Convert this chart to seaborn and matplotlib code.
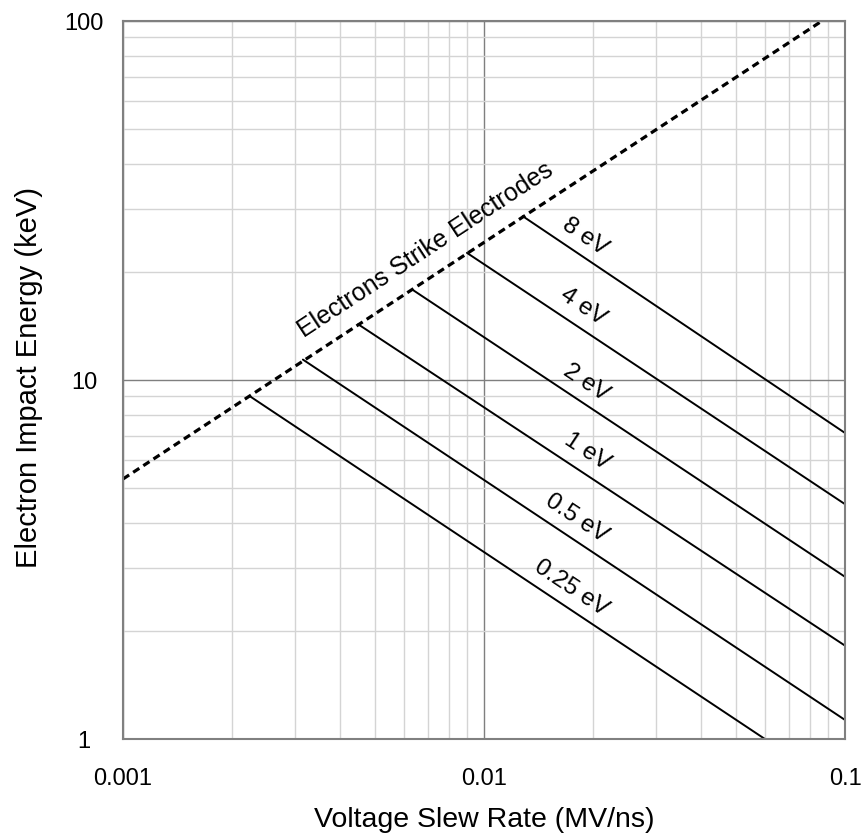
import numpy as np
import matplotlib
matplotlib.use("Agg")
import matplotlib.pyplot as plt
import seaborn as sb
from matplotlib.ticker import FixedLocator, FixedFormatter, LogLocator, NullFormatter


# Kinetic energy of the ions (one solid line each)
energy_labels = ["0.25 eV", "0.5 eV", "1 eV", "2 eV", "4 eV", "8 eV"]
start_rate = [0.00225, 0.00315, 0.00448, 0.00636, 0.00897, 0.0128]
start_energy = [9.0, 11.4, 14.3, 17.8, 22.6, 28.6]
end_rate = [0.060, 0.1, 0.1, 0.1, 0.1, 0.1]
end_energy = [1.0, 1.13, 1.82, 2.83, 4.51, 7.12]

# "Electrons Strike Electrodes" limit (dashed)
strike_rate = [0.001, 0.0863]
strike_energy = [5.3, 100.0]

x_ticks = [0.001, 0.01, 0.1]
x_tick_labels = ["0.001", "0.01", "0.1"]
y_ticks = [1, 10, 100]
y_tick_labels = ["1", "10", "100"]

# label centres for the curves (data coords)
label_rate = [0.0174, 0.0181, 0.0193, 0.01915, 0.0188, 0.01905]
label_energy = [2.65, 4.13, 6.34, 9.87, 16.1, 25.2]


def main():
    sb.set_theme(style="white")
    plt.rcParams['font.family'] = ['Liberation Sans', 'DejaVu Sans']

    fig = plt.figure(figsize=(8.64, 8.37), dpi=100)
    ax = fig.add_axes([123 / 864, 97 / 837, 722 / 864, 718 / 837])
    ax.set_xscale('log')
    ax.set_yscale('log')
    ax.set_xlim(0.001, 0.1)
    ax.set_ylim(1, 100)

    # grid: light minor lines, darker decade lines
    ax.xaxis.set_minor_locator(LogLocator(base=10, subs=np.arange(2, 10)))
    ax.yaxis.set_minor_locator(LogLocator(base=10, subs=np.arange(2, 10)))
    ax.xaxis.set_minor_formatter(NullFormatter())
    ax.yaxis.set_minor_formatter(NullFormatter())
    ax.grid(True, which='minor', color='#d4d4d4', lw=1.0)
    ax.grid(True, which='major', color='#7f7f7f', lw=1.0)
    ax.set_axisbelow(True)

    for i in range(len(energy_labels)):
        sb.lineplot(x=[start_rate[i], end_rate[i]], y=[start_energy[i], end_energy[i]],
                    ax=ax, color='black', lw=1.4)

    sb.lineplot(x=strike_rate, y=strike_energy, ax=ax, color='black', lw=2.3,
                dashes=False, linestyle=(0, (2.3, 1.5)))

    fig.canvas.draw()

    def screen_angle(x0, y0, x1, y1):
        p0 = ax.transData.transform((x0, y0))
        p1 = ax.transData.transform((x1, y1))
        return np.degrees(np.arctan2(p1[1] - p0[1], p1[0] - p0[0]))

    for i, lab in enumerate(energy_labels):
        ang = screen_angle(start_rate[i], start_energy[i], end_rate[i], end_energy[i])
        ax.text(label_rate[i], label_energy[i], lab, rotation=ang, rotation_mode='anchor',
                ha='center', va='center', fontsize=17.5, color='black')

    ang = screen_angle(strike_rate[0], strike_energy[0], strike_rate[1], strike_energy[1])
    ax.text(0.00687, 23.2, "Electrons Strike Electrodes", rotation=ang,
            rotation_mode='anchor', ha='center', va='center', fontsize=18, color='black')

    ax.xaxis.set_major_locator(FixedLocator(x_ticks))
    ax.xaxis.set_major_formatter(FixedFormatter(x_tick_labels))
    ax.yaxis.set_major_locator(FixedLocator(y_ticks))
    ax.yaxis.set_major_formatter(FixedFormatter(y_tick_labels))
    ax.tick_params(axis='both', which='both', length=0, labelsize=17, colors='black')
    ax.tick_params(axis='x', pad=20)
    ax.tick_params(axis='y', pad=28)
    for t in ax.get_yticklabels():
        t.set_horizontalalignment('center')

    for s in ax.spines.values():
        s.set_color('#808080')
        s.set_linewidth(1.5)

    ax.set_xlabel("Voltage Slew Rate (MV/ns)", fontsize=20.5, color='black', va='center')
    ax.set_ylabel("Electron Impact Energy (keV)", fontsize=21, color='black', va='center')
    ax.xaxis.set_label_coords(0.5, -0.111)
    ax.yaxis.set_label_coords(-0.130, 0.505)

    fig.savefig("out.png", dpi=100)


if __name__ == "__main__":
    main()
